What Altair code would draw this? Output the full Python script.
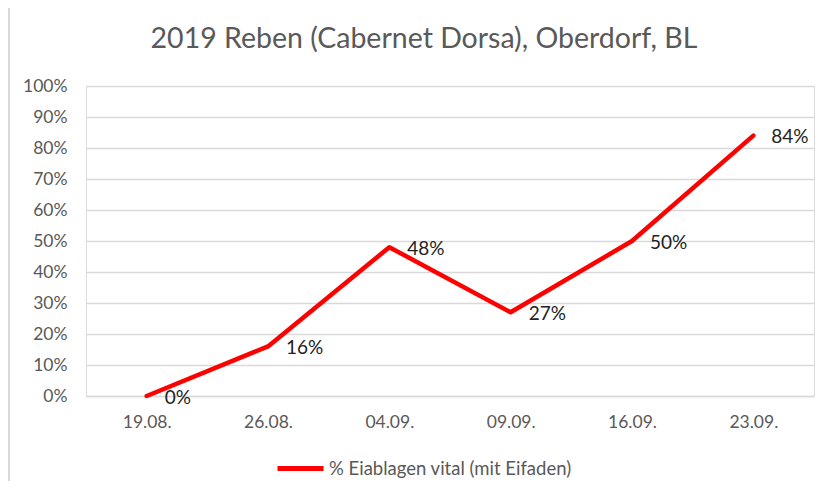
import altair as alt
import pandas as pd

dates = ["19.08.", "26.08.", "04.09.", "09.09.", "16.09.", "23.09."]
values = [0.0, 0.16, 0.48, 0.27, 0.50, 0.84]
series_name = "% Eiablagen vital (mit Eifaden)"
title_text = "2019 Reben (Cabernet Dorsa), Oberdorf, BL"
y_ticks = [0, 0.1, 0.2, 0.3, 0.4, 0.5, 0.6, 0.7, 0.8, 0.9, 1.0]

df = pd.DataFrame({"date": dates, "value": values, "series": [series_name] * len(dates)})

FONT = "Lato"
GRAY = "#595959"
GRID = "#D9D9D9"

x_enc = alt.X(
    "date:O",
    sort=dates,
    scale=alt.Scale(type="point", padding=0.5),
    axis=alt.Axis(
        title=None, labelAngle=0, ticks=False, grid=False,
        domainColor=GRID, domainWidth=1.5,
        labelColor=GRAY, labelFontSize=17.5, labelFont=FONT, labelPadding=17,
    ),
)
y_enc = alt.Y(
    "value:Q",
    scale=alt.Scale(domain=[0, 1]),
    axis=alt.Axis(
        title=None, values=y_ticks, format=".0%", ticks=False, domain=False,
        gridColor=GRID, gridWidth=1.5, labelOverlap=False,
        labelColor=GRAY, labelFontSize=17.5, labelFont=FONT, labelPadding=19,
    ),
)

line = alt.Chart(df).mark_line(strokeWidth=4.5, strokeJoin="round", strokeCap="round").encode(
    x=x_enc,
    y=y_enc,
    color=alt.Color(
        "series:N",
        scale=alt.Scale(range=["#FF0000"]),
        legend=alt.Legend(
            title=None, orient="none", legendX=189, legendY=357, padding=0,
            symbolType="stroke", symbolSize=2116, symbolStrokeWidth=5,
            labelFontSize=18.5, labelFont=FONT, labelColor=GRAY, labelOffset=3,
            labelLimit=500,
        ),
    ),
)

labels = alt.Chart(df).mark_text(
    align="left", baseline="middle", dx=18, dy=1.5, fontSize=19, font=FONT, color="#222222"
).encode(
    x=x_enc,
    y=y_enc,
    text=alt.Text("value:Q", format=".0%"),
)

border = alt.Chart(alt.Data(values=[{}])).mark_rule(color=GRID, strokeWidth=2).encode(
    x=alt.value(-77), y=alt.value(-78), y2=alt.value(400)
)

chart = alt.layer(border, line, labels).properties(
    width=728,
    height=310,
    title=alt.TitleParams(
        text=title_text, fontSize=28.5, font=FONT, fontWeight="normal", color=GRAY,
        anchor="middle", frame="group", dx=-26, offset=0, baseline="alphabetic", dy=69,
    ),
    autosize=alt.AutoSizeParams(type="none"),
    padding={"left": 78, "top": 78, "right": 5, "bottom": 85},
).configure_view(stroke=None).configure(font=FONT)

chart.save("out.html", embed_options={"renderer": "svg", "actions": False})
